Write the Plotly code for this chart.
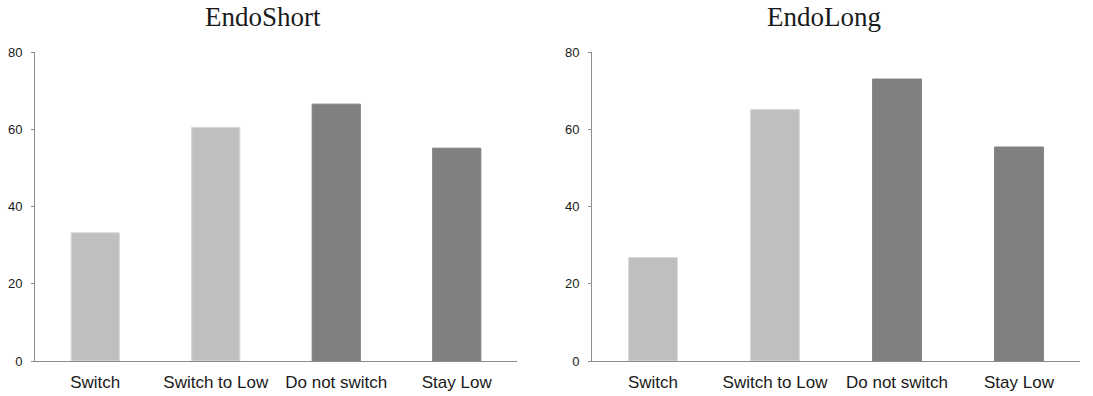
import plotly.graph_objects as go

categories = ["Switch", "Switch to Low", "Do not switch", "Stay Low"]
endo_short = [33.2, 60.5, 66.5, 55.1]
endo_long = [26.8, 65.1, 73.0, 55.4]
bar_colors = ["#bfbfbf", "#bfbfbf", "#808080", "#808080"]
line_colors = ["#d9d9d9", "#d9d9d9", "#808080", "#808080"]
titles = ["EndoShort", "EndoLong"]
y_ticks = [0, 20, 40, 60, 80]

W, H = 1093, 396
fig = go.Figure()

fig.add_trace(go.Bar(x=categories, y=endo_short, marker=dict(color=bar_colors, line=dict(color=line_colors, width=1)),
                     xaxis="x", yaxis="y", showlegend=False, hoverinfo="skip"))
fig.add_trace(go.Bar(x=categories, y=endo_long, marker=dict(color=bar_colors, line=dict(color=line_colors, width=1)),
                     xaxis="x2", yaxis="y2", showlegend=False, hoverinfo="skip"))

dom1 = [35 / W, 517 / W]
dom2 = [592 / W, 1080 / W]

xcommon = dict(showline=True, linecolor="#8c8c8c", linewidth=1, ticks="", showgrid=False, zeroline=False,
               tickfont=dict(family="Liberation Sans, Arial", size=17, color="#1a1a1a"), automargin=False,
               ticklabelstandoff=6)
ycommon = dict(range=[0, 80], tickvals=y_ticks, showline=True, linecolor="#8c8c8c", linewidth=1,
               ticks="outside", ticklen=3, tickcolor="#8c8c8c", showgrid=False, zeroline=False,
               tickfont=dict(family="Liberation Sans, Arial", size=13, color="#1a1a1a"), automargin=False,
               ticklabelstandoff=6)

fig.update_layout(
    width=W, height=H,
    margin=dict(l=0, r=0, t=52, b=35),
    paper_bgcolor="white", plot_bgcolor="white",
    bargap=0.6,
    xaxis=dict(domain=dom1, anchor="y", **xcommon),
    yaxis=dict(domain=[0, 1], anchor="x", **ycommon),
    xaxis2=dict(domain=dom2, anchor="y2", **xcommon),
    yaxis2=dict(domain=[0, 1], anchor="x2", **ycommon),
)

title_x = [263 / W, 824 / W]
for t, xp in zip(titles, title_x):
    fig.add_annotation(text=t, x=xp, y=(361 - 17) / 309, xref="paper", yref="paper",
                       xanchor="center", yanchor="middle", showarrow=False,
                       font=dict(family="Liberation Serif, serif", size=27, color="#1a1a1a"))

fig.write_html("out.html", config={"displayModeBar": False},
               post_script="document.body.style.margin='0';window.dispatchEvent(new Event('resize'));")
